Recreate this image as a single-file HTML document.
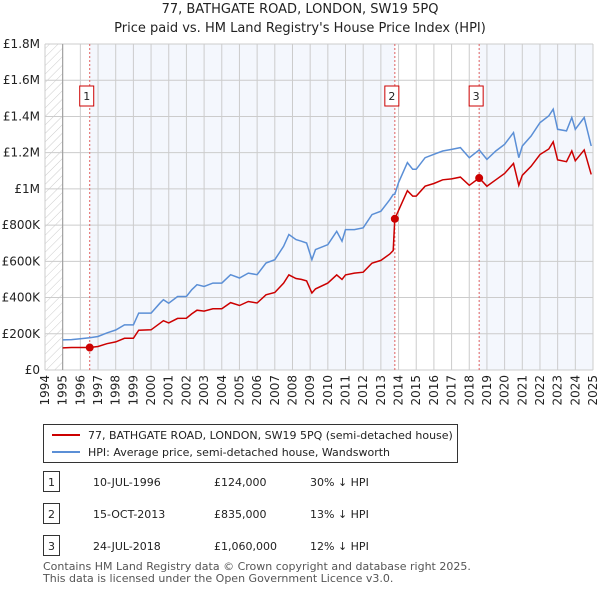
<!DOCTYPE html>
<html><head><meta charset="utf-8"><style>
body{margin:0;background:#fff;font-family:"Liberation Sans","DejaVu Sans",sans-serif;}
svg text{font-family:"DejaVu Sans","Liberation Sans",sans-serif;}
</style></head><body>
<svg id="c" width="600" height="590" viewBox="0 0 600 590" xmlns="http://www.w3.org/2000/svg">
<defs><pattern id="h" width="6" height="6" patternUnits="userSpaceOnUse" patternTransform="rotate(45)"><line x1="0" y1="0" x2="0" y2="6" stroke="#ccc" stroke-width="1"/></pattern></defs>
<text x="300" y="13" text-anchor="middle" font-size="13" fill="#222">77, BATHGATE ROAD, LONDON, SW19 5PQ</text>
<text x="300" y="32" text-anchor="middle" font-size="13" fill="#222">Price paid vs. HM Land Registry's House Price Index (HPI)</text>
<g id="plot"></g>
<g>
<rect x="43.5" y="424.5" width="414" height="38" fill="#fff" stroke="#333"/>
<line x1="52" y1="435" x2="80" y2="435" stroke="#cc0000" stroke-width="2"/>
<text x="88" y="439" font-size="11" fill="#222">77, BATHGATE ROAD, LONDON, SW19 5PQ (semi-detached house)</text>
<line x1="52" y1="452" x2="80" y2="452" stroke="#5b8fd6" stroke-width="2"/>
<text x="88" y="456" font-size="11" fill="#222">HPI: Average price, semi-detached house, Wandsworth</text>
</g>
<g id="tbl" font-size="11" fill="#222"></g>
<text x="43" y="570" font-size="11" fill="#555">Contains HM Land Registry data © Crown copyright and database right 2025.</text>
<text x="43" y="582" font-size="11" fill="#555">This data is licensed under the Open Government Licence v3.0.</text>
</svg>
<script>
const years=[1995.0,1995.5,1996.0,1996.53,1997.0,1997.5,1998.0,1998.5,1999.0,1999.3,2000.0,2000.5,2000.7,2001.0,2001.5,2002.0,2002.3,2002.6,2003.0,2003.5,2004.0,2004.5,2005.0,2005.5,2006.0,2006.5,2007.0,2007.5,2007.8,2008.2,2008.5,2008.8,2009.1,2009.3,2010.0,2010.5,2010.8,2011.0,2011.5,2012.0,2012.5,2013.0,2013.5,2013.7,2013.79,2014.0,2014.5,2014.8,2015.0,2015.5,2016.0,2016.5,2017.0,2017.5,2018.0,2018.56,2019.0,2019.5,2020.0,2020.5,2020.8,2021.0,2021.5,2022.0,2022.5,2022.75,2023.0,2023.5,2023.8,2024.0,2024.5,2024.9];
const hpiValues=[166,168,172,178,185,205,221,249,249,314,314,369,388,369,406,406,443,471,461,480,480,526,508,535,526,591,609,683,748,720,711,701,609,665,692,766,711,775,775,785,858,877,940,969,970,1034,1145,1108,1108,1172,1191,1209,1218,1228,1172,1215,1163,1209,1246,1311,1172,1237,1292,1366,1403,1440,1329,1320,1394,1329,1394,1237];
const priceValues=[122,124,124,124,130,145,155,175,175,220,222,258,272,260,285,286,310,330,325,338,338,372,356,378,370,415,428,480,525,505,500,492,425,448,480,525,500,525,535,540,590,605,640,660,835,880,990,960,960,1015,1030,1050,1055,1065,1020,1060,1015,1050,1085,1140,1020,1075,1125,1190,1220,1260,1160,1150,1210,1155,1215,1080];
const saleYears=[1996.53,2013.79,2018.56];
const salePrices=[124,835,1060];
const saleDates=["10-JUL-1996","15-OCT-2013","24-JUL-2018"];
const salePriceLabels=["£124,000","£835,000","£1,060,000"];
const salePct=["30% ↓ HPI","13% ↓ HPI","12% ↓ HPI"];
const yTicks=[0,200,400,600,800,1000,1200,1400,1600,1800];
const yTickLabels=["£0","£200K","£400K","£600K","£800K","£1M","£1.2M","£1.4M","£1.6M","£1.8M"];
const xTicks=[1994,1995,1996,1997,1998,1999,2000,2001,2002,2003,2004,2005,2006,2007,2008,2009,2010,2011,2012,2013,2014,2015,2016,2017,2018,2019,2020,2021,2022,2023,2024,2025];

const NS="http://www.w3.org/2000/svg";
const X0=45,X1=593,Y0=370,Y1=44;
const xs=v=>X0+(v-1994)/(2025-1994)*(X1-X0);
const ys=v=>Y0-v/1800*(Y0-Y1);
const g=document.getElementById('plot');
function mk(tag,attrs,parent){const e=document.createElementNS(NS,tag);for(const k in attrs)e.setAttribute(k,attrs[k]);(parent||g).appendChild(e);return e;}
let b1=mk('rect',{x:xs(saleYears[0]),y:Y1,width:xs(saleYears[1])-xs(saleYears[0]),height:Y0-Y1,fill:'#f4f7fd'});


let b2=mk('rect',{x:xs(saleYears[2]),y:Y1,width:X1-xs(saleYears[2]),height:Y0-Y1,fill:'#f4f7fd'});


let hz=mk('rect',{x:X0,y:Y1,width:xs(1995)-X0,height:Y0-Y1,fill:'url(#h)'});


xTicks.forEach((t)=>{
 let l=mk('line',{x1:xs(t),x2:xs(t),y1:Y1,y2:Y0,stroke:'#ccc','stroke-width':1});
 
 
 let tx=mk('text',{x:0,y:0,'font-size':12,fill:'#222','text-anchor':'end',transform:`translate(${xs(t)+4},${Y0+5}) rotate(-90)`});
 tx.textContent=t;
 
 
});
yTicks.forEach((t,i)=>{
 let l=mk('line',{x1:X0,x2:X1,y1:ys(t),y2:ys(t),stroke:'#ccc','stroke-width':1});
 
 
 let tx=mk('text',{x:40,y:ys(t)+4,'font-size':12,fill:'#222','text-anchor':'end'});
 tx.textContent=yTickLabels[i];
 
 
});
let ax=mk('line',{x1:xs(1995),x2:xs(1995),y1:Y1,y2:Y0,stroke:'#999'});


saleYears.forEach((s,i)=>{
 let l=mk('line',{x1:xs(s),x2:xs(s),y1:Y1,y2:Y0,stroke:'#e06060','stroke-dasharray':'2,2'});
 
 
 let r=mk('rect',{x:xs(s)-10,y:86,width:14,height:20,fill:'#fff',stroke:'#cc0000'});
 
 
 let t=mk('text',{x:xs(s)-3,y:100,'font-size':11,fill:'#222','text-anchor':'middle'});
 t.textContent=i+1;
 
 
});
const path=(vals)=>vals.map((v,i)=>(i?'L':'M')+xs(years[i]).toFixed(1)+','+ys(v).toFixed(1)).join('');
let hp=mk('path',{d:path(hpiValues),fill:'none',stroke:'#5b8fd6','stroke-width':1.5});


let pp=mk('path',{d:path(priceValues),fill:'none',stroke:'#cc0000','stroke-width':1.5});


saleYears.forEach((s,i)=>{
 let c=mk('circle',{cx:xs(s),cy:ys(salePrices[i]),r:4,fill:'#cc0000'});
 
 
});
const tb=document.getElementById('tbl');
saleDates.forEach((d,i)=>{
 const y=482+i*32;
 let r=mk('rect',{x:43.5,y:y-10.5,width:16,height:20,fill:'#fff',stroke:'#333'},tb);
 
 
 const cells=[[51.5,String(i+1),'middle'],[93,d,'start'],[214,salePriceLabels[i],'start'],[310,salePct[i],'start']];
 cells.forEach(c=>{
  let t=mk('text',{x:c[0],y:y+4,'font-size':11,fill:'#222','text-anchor':c[2]},tb);
  t.textContent=c[1];
  
  
 });
});
</script>
</body></html>
